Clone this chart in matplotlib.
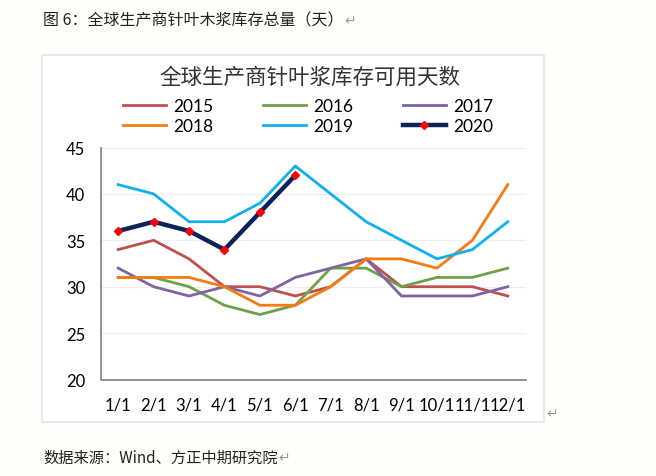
import matplotlib
matplotlib.use("Agg")
from matplotlib import pyplot as plt
from matplotlib.patches import Rectangle

plt.rcParams['font.family'] = ['Noto Sans CJK SC', 'DejaVu Sans']

months = ['1/1', '2/1', '3/1', '4/1', '5/1', '6/1', '7/1', '8/1', '9/1', '10/1', '11/1', '12/1']
y2015 = [34, 35, 33, 30, 30, 29, 30, 33, 30, 30, 30, 29]
y2016 = [31, 31, 30, 28, 27, 28, 32, 32, 30, 31, 31, 32]
y2017 = [32, 30, 29, 30, 29, 31, 32, 33, 29, 29, 29, 30]
y2018 = [31, 31, 31, 30, 28, 28, 30, 33, 33, 32, 35, 41]
y2019 = [41, 40, 37, 37, 39, 43, 40, 37, 35, 33, 34, 37]
y2020 = [36, 37, 36, 34, 38, 42]

W, H = 656, 477
fig = plt.figure(figsize=(W / 100, H / 100), dpi=100)
fig.patch.set_facecolor('#fefefb')

# chart frame, kept behind the axes
frame = Rectangle((42 / W, 1 - 423 / H), 502 / W, 367 / H, transform=fig.transFigure,
                  facecolor='white', edgecolor='#e4e4e4', lw=1.2, zorder=-5)
fig.patches.append(frame)

ax = fig.add_axes([100.5 / W, 1 - 380.5 / H, 425 / W, 232 / H])
ax.set_facecolor('none')
x = list(range(len(months)))
l15, = ax.plot(x, y2015, color='#c0504d', lw=2, label='2015')
l16, = ax.plot(x, y2016, color='#70a048', lw=2, label='2016')
l17, = ax.plot(x, y2017, color='#8064a2', lw=2, label='2017')
l18, = ax.plot(x, y2018, color='#f57b12', lw=2, label='2018')
l19, = ax.plot(x, y2019, color='#10b0ee', lw=2, label='2019')
l20, = ax.plot(x[:len(y2020)], y2020, color='#0b2358', lw=3.2, marker='D', ms=4.5,
               mfc='#ff0000', mec='#ff0000', label='2020')

ax.set_xlim(-0.5, 11.5)
ax.set_ylim(20, 45)
ax.set_yticks([20, 25, 30, 35, 40, 45])
ax.set_xticks(x)
ax.set_xticklabels(months)
ax.tick_params(length=0, labelsize=12, colors='black')
ax.tick_params(axis='x', pad=12)
ax.tick_params(axis='y', pad=11)
for lab in ax.get_xticklabels() + ax.get_yticklabels():
    lab.set_family('Lato')
ax.grid(axis='y', color='#eeeeee', lw=0.8)
ax.set_axisbelow(True)
for s in ['top', 'right']:
    ax.spines[s].set_visible(False)
for s in ['left', 'bottom']:
    ax.spines[s].set_color('#8c8c8c')
    ax.spines[s].set_linewidth(1.3)

fig.text(310 / W, 1 - 78 / H, '全球生产商针叶浆库存可用天数', ha='center', va='center', fontsize=15.5, color='#333333')
# matplotlib fills legend columns first, so order handles to read row by row
handles = [l15, l18, l16, l19, l17, l20]
fig.legend(handles, [h.get_label() for h in handles], loc='center',
           bbox_to_anchor=(308 / W, 1 - 117 / H), ncol=3, frameon=False,
           prop={'family': 'Lato', 'size': 12.5},
           handlelength=2.5, columnspacing=2.85, handletextpad=0.4,
           labelspacing=0.2)

head = fig.text(43 / W, 1 - 21 / H, '图 6：全球生产商针叶木浆库存总量（天）', ha='left', va='center', fontsize=11.5, color='#222222')
foot = fig.text(43 / W, 1 - 458 / H, '数据来源：Wind、方正中期研究院', ha='left', va='center', fontsize=11, color='#222222')

r = fig.canvas.get_renderer()
for t in [head, foot]:
    bb = t.get_window_extent(r)
    fig.text((bb.x1 + 1) / W, (bb.y0 + bb.y1) / 2 / H, '↵', ha='left', va='center',
             fontsize=10, color='#999999', family='DejaVu Sans')
fig.text(546 / W, 1 - 414 / H, '↵', ha='left', va='center', fontsize=10, color='#999999', family='DejaVu Sans')

fig.savefig('out.png', dpi=100, facecolor=fig.get_facecolor())
